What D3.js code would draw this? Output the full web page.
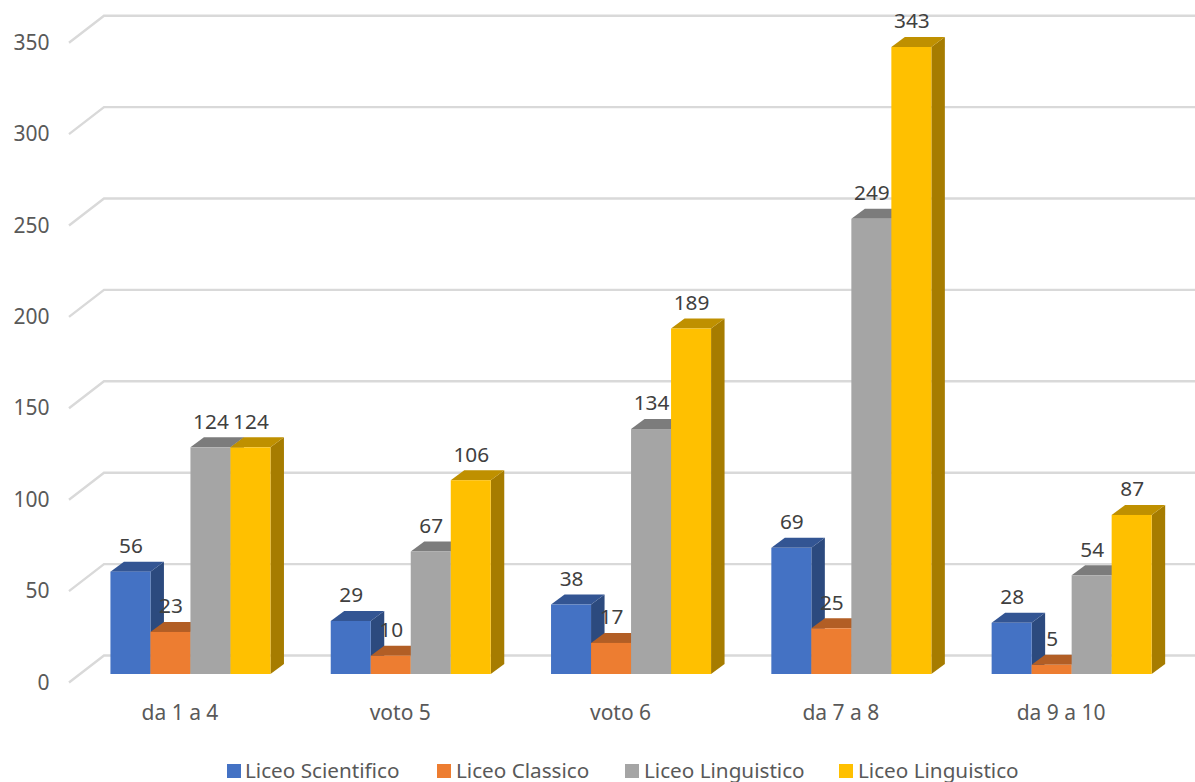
<!DOCTYPE html>
<html><head><meta charset="utf-8">
<script src="https://cdnjs.cloudflare.com/ajax/libs/d3/7.8.5/d3.min.js"></script>
<style>html,body{margin:0;padding:0;background:#fff}svg{display:block}text{font-family:"Noto Sans",sans-serif}</style>
</head><body><svg id="c" width="1195" height="782"></svg>
<script>
const categories = ["da 1 a 4","voto 5","voto 6","da 7 a 8","da 9 a 10"];
const seriesNames = ["Liceo Scientifico","Liceo Classico","Liceo Linguistico","Liceo Linguistico"];
const scientifico = [56,29,38,69,28];
const classico = [23,10,17,25,5];
const linguistico = [124,67,134,249,54];
const linguistico2 = [124,106,189,343,87];
const yTicks = [0,50,100,150,200,250,300,350];
const colors = ["#4472C4","#ED7D31","#A5A5A5","#FFC000"];
const topColors = ["#335593","#B25E25","#7C7C7C","#BF9000"];
const sideColors = ["#2C4A7E","#A0541F","#6F6F6F","#A67C00"];
const seriesValues = [scientifico,classico,linguistico,linguistico2];

const svg = d3.select("#c");
const y = d3.scaleLinear().domain([0,350]).range([674,674-350*1.828]);
const x0 = d3.scaleBand().domain(categories).range([80.3,1181.8]).paddingInner(0.2736).paddingOuter(0.1368);
const x1 = d3.scaleBand().domain(d3.range(4)).range([0,x0.bandwidth()]);
const dx=13.5, dy=10;

const grid = svg.append("g");
yTicks.forEach(t=>{
  const yb=y(t)-18.5, yf=y(t)+8.5;
  grid.append("path").attr("d",d3.line()([[69,yf],[104,yb],[1197,yb]]))
    .attr("fill","none").attr("stroke","#D9D9D9").attr("stroke-width",2.4);
  svg.append("text").attr("x",49.5).attr("y",yf+7).attr("text-anchor","end")
    .attr("font-size",21).attr("fill","#595959").text(t);
});

const marks = svg.append("g");
categories.forEach((c,i)=>{
  seriesValues.forEach((vals,s)=>{
    const xl=x0(c)+x1(s), w=x1.bandwidth(), xr=xl+w, yt=y(vals[i]), yb=y(0);
    marks.append("path").attr("fill",sideColors[s])
      .attr("d",d3.line()([[xr,yb],[xr+dx,yb-dy],[xr+dx,yt-dy],[xr,yt]])+"Z");
    marks.append("path").attr("fill",topColors[s])
      .attr("d",d3.line()([[xl,yt],[xl+dx,yt-dy],[xr+dx,yt-dy],[xr,yt]])+"Z");
    marks.append("rect").attr("x",xl).attr("y",yt).attr("width",w).attr("height",yb-yt).attr("fill",colors[s]);
  });
});
categories.forEach((c,i)=>{
  seriesValues.forEach((vals,s)=>{
    svg.append("text").attr("x",x0(c)+x1(s)+x1.bandwidth()/2+0.5).attr("y",y(vals[i])-18.7)
      .attr("text-anchor","middle").attr("font-size",20.8).attr("fill","#404040").text(vals[i]);
  });
  svg.append("text").attr("x",x0(c)+x0.bandwidth()/2-10.5).attr("y",720).attr("text-anchor","middle")
    .attr("font-size",21).attr("fill","#595959").text(c);
});

const legendX=[227,437,625,839], legendTextX=[245,456,644,858];
seriesNames.forEach((n,i)=>{
  svg.append("rect").attr("x",legendX[i]).attr("y",764).attr("width",14).attr("height",14).attr("fill",colors[i]);
  svg.append("text").attr("x",legendTextX[i]).attr("y",777.5).attr("font-size",20.7).attr("fill","#595959").text(n);
});
</script></body></html>
